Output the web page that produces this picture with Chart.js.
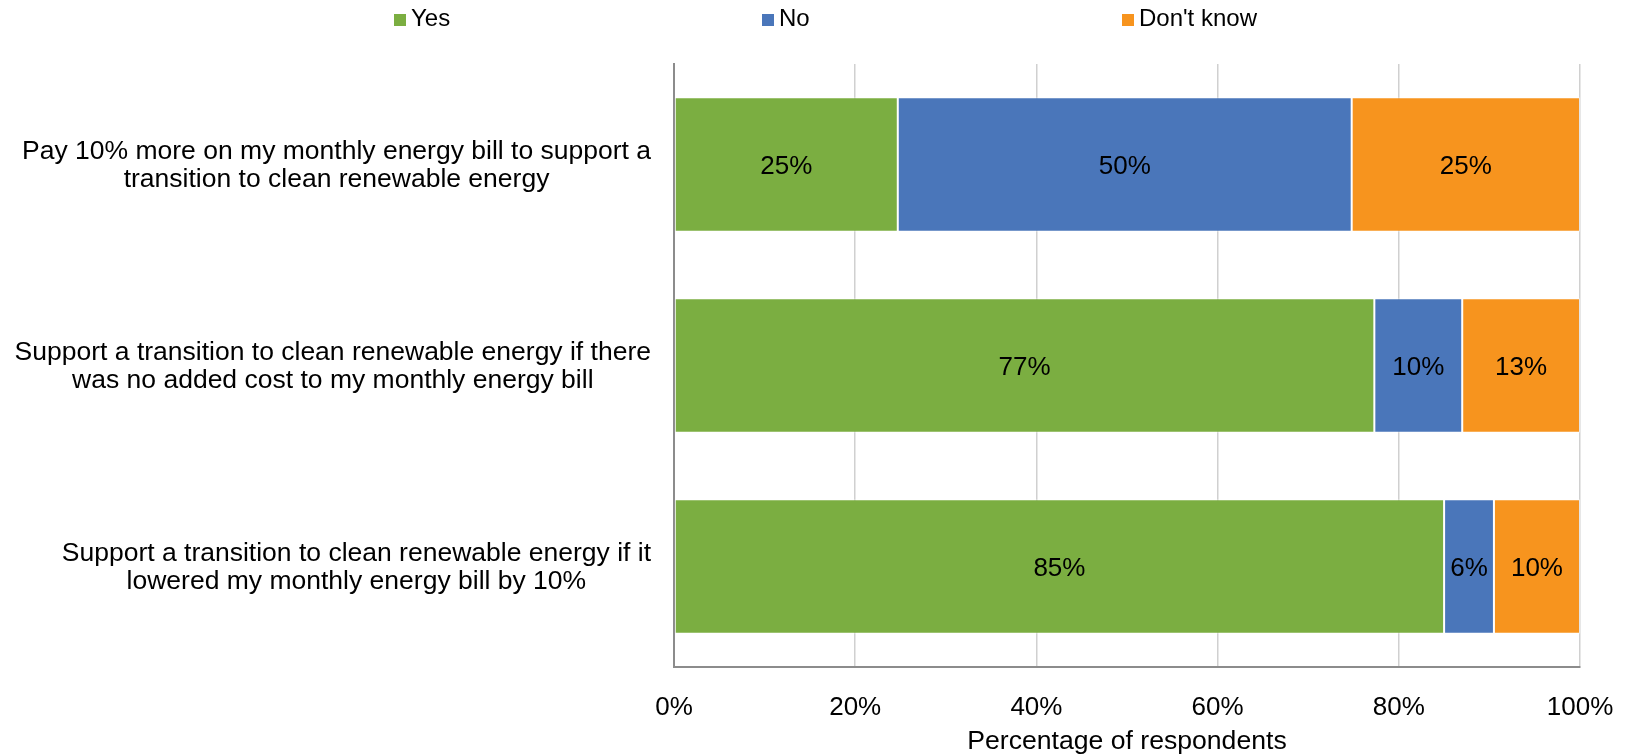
<!DOCTYPE html>
<html>
<head>
<meta charset="utf-8">
<script src="https://cdn.jsdelivr.net/npm/chart.js@4"></script>
<style>
  html, body { margin: 0; padding: 0; background: #fff; }
  #wrap { position: relative; width: 1630px; height: 755px; }
  #legend { position: absolute; top: 5px; left: 0; width: 1630px; height: 26px;
            font: 24px "Liberation Sans", Arial, sans-serif; color: #000; }
  #legend span.item { position: absolute; top: 0; white-space: nowrap; line-height: 26px; }
  #legend i { display: inline-block; width: 12px; height: 12px; margin-right: 5px; vertical-align: 0px; }
</style>
</head>
<body>
<div id="wrap">
  <div id="legend"></div>
  <canvas id="grafico" width="1630" height="755"></canvas>
</div>
<script>
const categories = [
  ['Pay 10% more on my monthly energy bill to support a', 'transition to clean renewable energy'],
  ['Support a transition to clean renewable energy if there', 'was no added cost to my monthly energy bill'],
  ['Support a transition to clean renewable energy if it', 'lowered my monthly energy bill by 10%']
];
const seriesNames = ['Yes', 'No', "Don't know"];
const yes = [24.7, 77.3, 85.0];
const no = [50.1, 9.7, 5.5];
const dontKnow = [25.2, 13.0, 9.5];
const xTicks = [0, 20, 40, 60, 80, 100];
const colors = ['#7BAE41', '#4A76BA', '#F7941E'];

const FONT = '"Liberation Sans", Arial, sans-serif';

// legend across the top
const legendPos = [394, 762, 1122];
const legend = document.getElementById('legend');
seriesNames.forEach((name, i) => {
  const s = document.createElement('span');
  s.className = 'item';
  s.style.left = legendPos[i] + 'px';
  s.innerHTML = '<i style="background:' + colors[i] + '"></i>' + name.replace("'", '&#39;');
  legend.appendChild(s);
});

// value labels inside bar segments
const valueLabels = {
  id: 'valueLabels',
  afterDatasetsDraw(chart) {
    const ctx = chart.ctx;
    ctx.save();
    ctx.font = '26px ' + FONT;
    ctx.fillStyle = '#000';
    ctx.textAlign = 'center';
    ctx.textBaseline = 'middle';
    chart.data.datasets.forEach((ds, di) => {
      chart.getDatasetMeta(di).data.forEach((bar, i) => {
        const p = bar.getCenterPoint();
        ctx.fillText(Math.round(ds.data[i]) + '%', p.x, p.y + 2);
      });
    });
    ctx.restore();
  }
};

// category labels, each centred on itself and right-aligned as a block
const categoryLabels = {
  id: 'categoryLabels',
  afterDraw(chart) {
    const ctx = chart.ctx;
    const y = chart.scales.y;
    ctx.save();
    ctx.font = '26.5px ' + FONT;
    ctx.fillStyle = '#000';
    ctx.textAlign = 'center';
    ctx.textBaseline = 'middle';
    const lh = 28;
    categories.forEach((lines, i) => {
      const w = Math.max(...lines.map(l => ctx.measureText(l).width));
      const cx = y.right - 23 - w / 2;
      const cy = y.getPixelForTick(i) + 1;
      lines.forEach((l, k) => {
        ctx.fillText(l, cx, cy + (k - (lines.length - 1) / 2) * lh);
      });
    });
    ctx.restore();
  }
};

const ctx = document.getElementById('grafico').getContext('2d');
new Chart(ctx, {
  type: 'bar',
  data: {
    labels: categories,
    datasets: [yes, no, dontKnow].map((d, i) => ({
      label: seriesNames[i],
      data: d,
      backgroundColor: colors[i],
      borderColor: 'rgba(255,255,255,0.45)',
      borderWidth: 1,
      borderSkipped: false,
      categoryPercentage: 1,
      barPercentage: 0.67
    }))
  },
  options: {
    indexAxis: 'y',
    responsive: false,
    animation: false,
    layout: { padding: { top: 64, right: 50, bottom: 0, left: 0 } },
    plugins: {
      legend: { display: false },
      tooltip: { enabled: false }
    },
    scales: {
      x: {
        stacked: true,
        min: 0,
        max: 100,
        afterBuildTicks: s => { s.ticks = xTicks.map(v => ({ value: v })); },
        afterFit: s => { s.height = 88; s.paddingLeft = 0; s.paddingRight = 0; },
        grid: { color: '#d0d0d0', lineWidth: 1.5, drawTicks: false },
        border: { color: '#8c8c8c', width: 2 },
        ticks: {
          padding: 25,
          color: '#000',
          font: { family: FONT, size: 26 },
          callback: v => v + '%'
        },
        title: {
          display: true,
          text: 'Percentage of respondents',
          color: '#000',
          font: { family: FONT, size: 26.6, lineHeight: 1.0 },
          padding: { top: 0, bottom: 0 }
        }
      },
      y: {
        stacked: true,
        grid: { display: false, drawTicks: false },
        border: { color: '#8c8c8c', width: 2 },
        ticks: { display: false },
        afterFit: s => { s.width = 674; }
      }
    }
  },
  plugins: [valueLabels, categoryLabels]
});
</script>
</body>
</html>
